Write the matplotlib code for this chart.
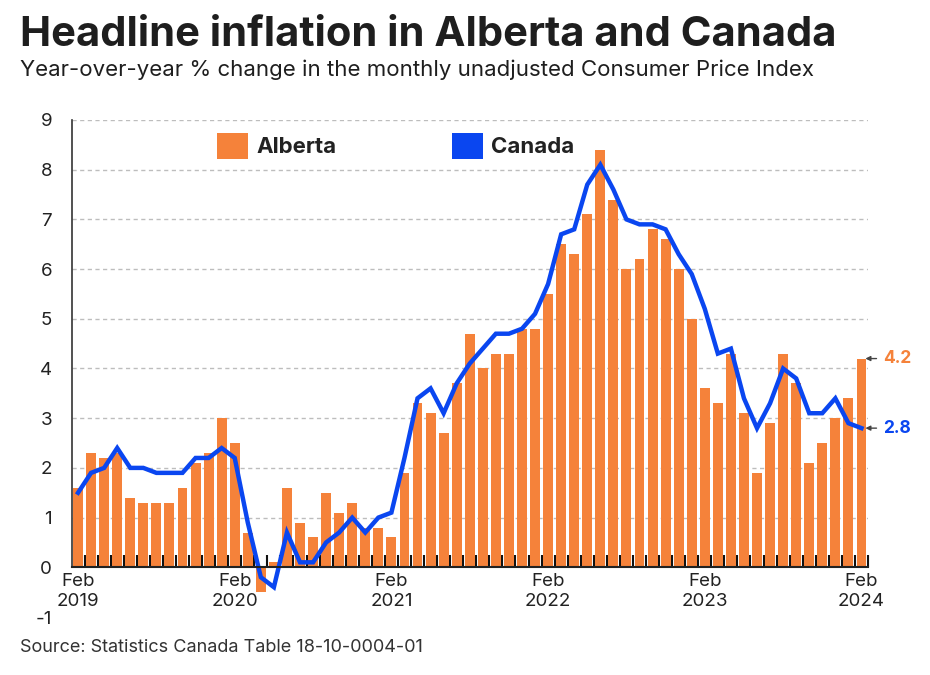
import matplotlib
matplotlib.use("Agg")
import matplotlib.pyplot as plt
from matplotlib.patches import Patch
import numpy as np

# monthly data, Feb 2019 .. Feb 2024
alberta = [1.6, 2.3, 2.2, 2.3, 1.4, 1.3, 1.3, 1.3, 1.6, 2.1, 2.3, 3.0,
           2.5, 0.7, -0.5, 0.1, 1.6, 0.9, 0.6, 1.5, 1.1, 1.3, 0.8, 0.8,
           0.6, 1.9, 3.3, 3.1, 2.7, 3.7, 4.7, 4.0, 4.3, 4.3, 4.8, 4.8,
           5.5, 6.5, 6.3, 7.1, 8.4, 7.4, 6.0, 6.2, 6.8, 6.6, 6.0, 5.0,
           3.6, 3.3, 4.3, 3.1, 1.9, 2.9, 4.3, 3.7, 2.1, 2.5, 3.0, 3.4,
           4.2]
canada = [1.5, 1.9, 2.0, 2.4, 2.0, 2.0, 1.9, 1.9, 1.9, 2.2, 2.2, 2.4,
          2.2, 0.9, -0.2, -0.4, 0.7, 0.1, 0.1, 0.5, 0.7, 1.0, 0.7, 1.0,
          1.1, 2.2, 3.4, 3.6, 3.1, 3.7, 4.1, 4.4, 4.7, 4.7, 4.8, 5.1,
          5.7, 6.7, 6.8, 7.7, 8.1, 7.6, 7.0, 6.9, 6.9, 6.8, 6.3, 5.9,
          5.2, 4.3, 4.4, 3.4, 2.8, 3.3, 4.0, 3.8, 3.1, 3.1, 3.4, 2.9,
          2.8]
tick_pos = [0, 12, 24, 36, 48, 60]
tick_labels = ["Feb\n2019", "Feb\n2020", "Feb\n2021", "Feb\n2022", "Feb\n2023", "Feb\n2024"]

ORANGE = "#F5823A"
BLUE = "#0A46F0"
FONT = "Inter"

plt.rcParams['font.family'] = [FONT, 'DejaVu Sans']
plt.rcParams['axes.unicode_minus'] = False

fig = plt.figure(figsize=(9.3, 6.75), dpi=100)
ax = fig.add_axes([71.5 / 930, 58 / 675, (868 - 71.5) / 930, 497 / 675])

x = np.arange(len(alberta))
ax.bar(x, alberta, width=0.76, color=ORANGE, zorder=2)
ax.plot(x, canada, color=BLUE, lw=3.2, zorder=4, solid_joinstyle='miter')

# dashed grid
for y in range(1, 10):
    ax.axhline(y, color="#BDBDBD", lw=1, ls=(0, (3, 2.5)), zorder=1)

ax.set_xlim(-0.5, 60.47)
ax.set_ylim(-1, 9)

for s in ["top", "right"]:
    ax.spines[s].set_visible(False)
ax.spines["left"].set_bounds(0, 9)
ax.spines["left"].set_linewidth(1.2)
ax.spines["left"].set_color("#333333")
ax.spines["bottom"].set_position(("data", 0))
ax.spines["bottom"].set_linewidth(1.5)
ax.spines["bottom"].set_color("#222222")
ax.spines["bottom"].set_zorder(5)

ax.set_yticks(range(-1, 10))
ax.tick_params(axis="y", length=0, pad=14, labelsize=13.5, labelcolor="#222222")
ax.set_xticks(tick_pos)
ax.set_xticklabels(tick_labels, linespacing=1.25)
ax.tick_params(axis="x", which="major", length=0, pad=4, labelsize=13.5, labelcolor="#222222")
ax.set_xticks(np.arange(0.5, 61, 1), minor=True)
ax.tick_params(axis="x", which="minor", direction="in", length=8.5, width=1.5, color="#111111")

# legend
handles = [Patch(facecolor=ORANGE, label="Alberta"), Patch(facecolor=BLUE, label="Canada")]
leg = ax.legend(handles=handles, loc="center left", bbox_to_anchor=(0.1827, 0.948),
                ncol=2, frameon=False, borderpad=0, borderaxespad=0,
                handlelength=1.4, handleheight=1.4, handletextpad=0.36,
                columnspacing=5.2, prop={"family": FONT, "weight": "bold", "size": 16})
for t in leg.get_texts():
    t.set_color("#222222")

# end labels
for val, col in [(alberta[-1], ORANGE), (canada[-1], BLUE)]:
    ax.annotate(f"{val:.1f}", xy=(60.3, val), xytext=(13, 0), textcoords="offset points",
                color=col, fontsize=12.5, fontweight="bold", va="center", ha="left",
                arrowprops=dict(arrowstyle="-|>", color="#444444", lw=1, mutation_scale=7,
                                shrinkA=3, shrinkB=0))

fig.text(20 / 930, 1 - 35 / 675, "Headline inflation in Alberta and Canada",
         fontsize=30, fontweight="bold", color="#1E1E1E", va="center", ha="left")
fig.text(20 / 930, 1 - 70 / 675, "Year-over-year % change in the monthly unadjusted Consumer Price Index",
         fontsize=16, color="#1E1E1E", va="center", ha="left")
fig.text(20 / 930, 1 - 648 / 675, "Source: Statistics Canada Table 18-10-0004-01",
         fontsize=13, color="#333333", va="center", ha="left")

fig.savefig("out.png", dpi=100)
